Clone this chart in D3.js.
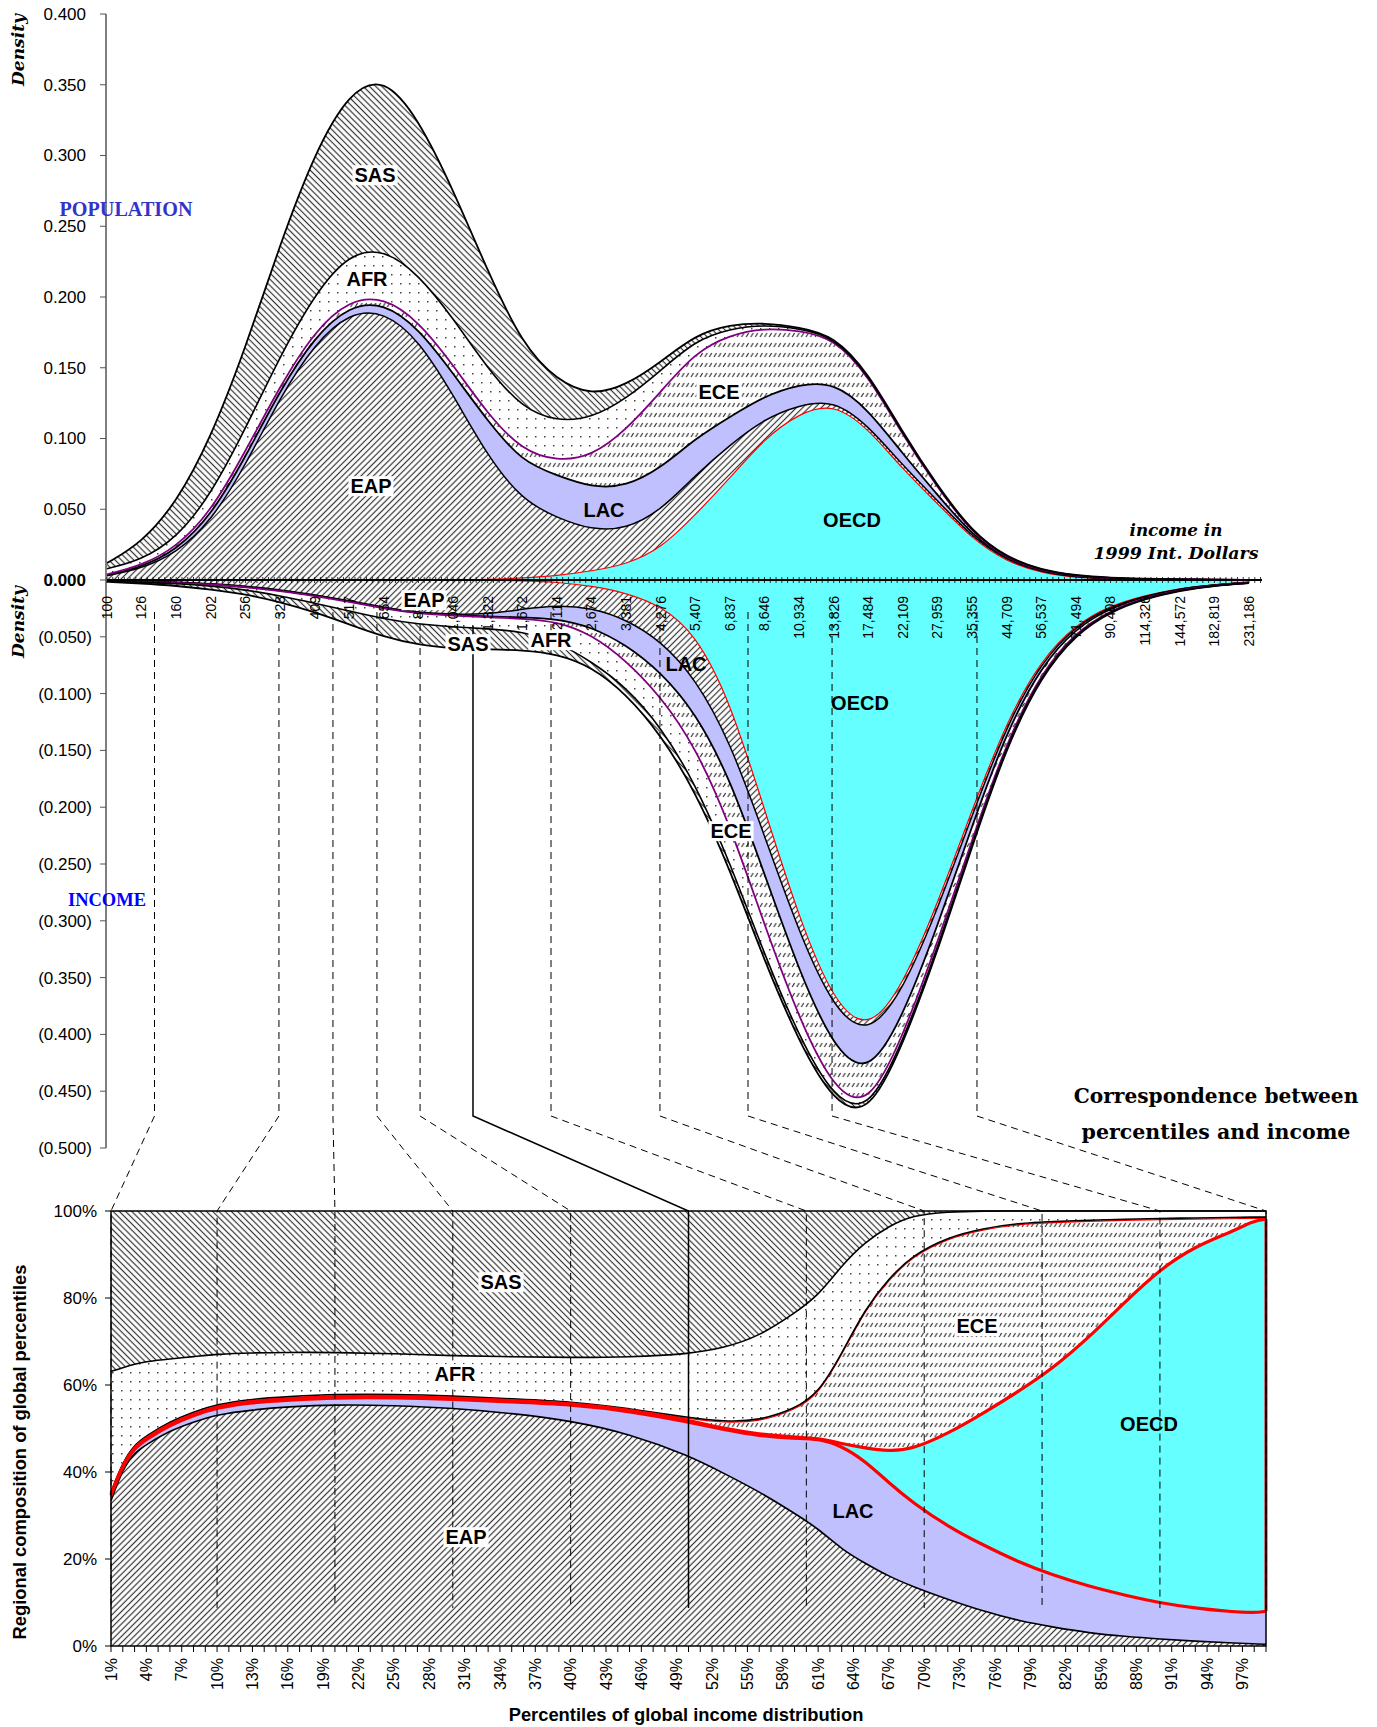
<!DOCTYPE html>
<html><head><meta charset="utf-8">
<script src="https://cdn.jsdelivr.net/npm/d3@7"></script>
<style>body{margin:0;background:#fff}</style>
</head><body><svg id="c" width="1377" height="1727"></svg>
<script>
// ================= DATA =================
const regions = ["OECD","EAP","LAC","ECE","AFR","SAS"];
const pctRegions = ["EAP","LAC","OECD","ECE","AFR","SAS"];
const incomeTicks = [100,126,160,202,256,323,409,517,654,827,1046,1322,1672,2114,2674,3381,4276,5407,6837,8646,10934,13826,17484,22109,27959,35355,44709,56537,71494,90408,114326,144572,182819,231186];
const incomeTickLabels = ["100","126","160","202","256","323","409","517","654","827","1,046","1,322","1,672","2,114","2,674","3,381","4,276","5,407","6,837","8,646","10,934","13,826","17,484","22,109","27,959","35,355","44,709","56,537","71,494","90,408","114,326","144,572","182,819","231,186"];

// Population density by region (top panel), at each income tick
const popOECD = [0,0,0,0,0,0,0,0,0,0,0,.0003,.0014,.003,.0063,.011,.022,.046,.072,.100,.118,.125,.107,.078,.054,.029,.0127,.005,.0017,.0007,.0003,.0002,.0001,.0001];
const popEAP  = [.003,.008,.019,.041,.081,.129,.167,.189,.190,.170,.131,.087,.055,.041,.029,.025,.027,.028,.0235,.014,.0057,.0023,.0023,.0027,.0022,.0012,.001,.0006,.0003,.0002,.0001,.0001,.0001,0];
const popLAC  = [.0005,.001,.002,.004,.006,.005,.005,.005,.006,.008,.015,.025,.027,.030,.030,.030,.030,.026,.0198,.016,.0146,.0126,.0113,.0082,.004,.0014,.0006,.0005,.0002,.0002,.0001,.0001,0,0];
const popECE  = [.0005,.001,.002,.003,.004,.003,.004,.004,.004,.005,.006,.005,.008,.010,.022,.040,.054,.061,.058,.048,.038,.031,.024,.013,.005,.0014,.0006,.0005,.0005,.0002,.0001,0,0,0];
const popAFR  = [.004,.004,.0064,.012,.016,.021,.026,.033,.034,.033,.033,.032,.030,.028,.027,.022,.015,.0083,.0043,.0024,.0014,.001,.001,.001,.0006,.0005,.0005,.0003,.0003,.0002,.0001,0,0,0];
const popSAS  = [.004,.012,.025,.040,.057,.079,.100,.114,.122,.110,.091,.069,.045,.029,.016,.0096,.006,.004,.0029,.0014,.001,.001,.001,.001,.0006,.0005,.0005,.0002,.0002,.0001,.0001,0,0,0];

// Income density by region (middle panel, drawn downwards)
const incOECD = [0,0,0,0,0,0,0,0,0,0,0,.0002,.0007,.0018,.0052,.0113,.0225,.047,.106,.202,.298,.372,.398,.357,.285,.202,.124,.070,.039,.0224,.0135,.0072,.004,.002];
const incEAP  = [.0005,.001,.002,.0032,.0054,.0086,.013,.018,.0243,.0286,.0303,.0298,.025,.0202,.0194,.0233,.031,.0394,.0357,.0231,.0127,.0061,.004,.0047,.005,.005,.0034,.0022,.0011,.001,.0005,.0003,.0002,.0001];
const incLAC  = [.0002,.0002,.0002,.0002,.0005,.0005,.0005,.0005,.0005,.0005,.0005,.0021,.0072,.0122,.0166,.0224,.0275,.030,.0328,.0338,.0338,.0345,.035,.0228,.0148,.0091,.0056,.0034,.0021,.0011,.0005,.0004,.0002,.0001];
const incECE  = [.0003,.0003,.0003,.0003,.0005,.0005,.0005,.0005,.0005,.0005,.0005,.0007,.001,.0022,.0066,.0138,.0215,.0302,.0406,.045,.0419,.0365,.028,.0173,.0143,.0124,.0088,.0055,.0033,.0021,.001,.0008,.0003,.0003];
const incAFR  = [.0002,.0005,.0006,.0015,.0022,.0043,.0064,.0082,.009,.0093,.010,.010,.0115,.018,.024,.0235,.0265,.0324,.0333,.0261,.0158,.0075,.0043,.0047,.005,.0034,.0022,.002,.0011,.0006,.0005,.0003,.0002,.0002];
const incSAS  = [.0003,.001,.002,.003,.004,.0053,.0078,.0119,.0158,.0183,.019,.0183,.0163,.0106,.0044,.0059,.007,.007,.0064,.0054,.005,.0037,.003,.003,.003,.0022,.002,.0012,.0011,.0006,.0005,.0002,.0001,.0001];

// Regional composition of global percentiles (bottom panel)
const pctPoints = [1,2,3,4,6,8,10,13,16,20,25,30,35,40,45,50,53,56,59,61,63,65,67,69,72,75,78,81,84,87,90,93,96,98,99];
const pctEAP  = [.334,.407,.445,.463,.495,.515,.532,.543,.55,.555,.553,.547,.535,.518,.488,.438,.397,.355,.305,.27,.222,.19,.16,.137,.107,.08,.058,.043,.03,.022,.016,.011,.007,.005,.004];
const pctLAC  = [.012,.008,.010,.012,.013,.015,.016,.017,.015,.016,.018,.020,.026,.037,.052,.077,.10,.128,.172,.207,.238,.235,.215,.193,.168,.152,.135,.119,.107,.095,.083,.076,.072,.071,.076];
const pctOECD = [.003,.003,.003,.003,.003,.003,.003,.003,.003,.003,.003,.003,.003,.003,.003,.004,.003,.004,.003,.001,.005,.03,.073,.122,.213,.303,.392,.478,.573,.673,.767,.832,.872,.902,.901];
const pctECE  = [.005,.005,.005,.005,.005,.005,.005,.005,.005,.005,.005,.005,.004,.004,.003,.006,.016,.031,.065,.102,.207,.321,.397,.446,.452,.425,.387,.336,.269,.191,.117,.065,.034,.008,.005];
const pctAFR  = [.277,.217,.185,.171,.144,.127,.115,.106,.102,.096,.093,.092,.097,.101,.118,.146,.169,.194,.22,.225,.203,.153,.12,.092,.058,.04,.028,.024,.021,.019,.017,.016,.015,.014,.014];
const pctSAS  = [.369,.36,.352,.346,.34,.335,.329,.326,.325,.325,.328,.333,.335,.337,.336,.329,.315,.288,.235,.195,.125,.071,.035,.01,.002,0,0,0,0,0,0,0,0,0,0];

// Correspondence between percentiles and income
const markPct = [1,10,20,30,40,50,60,70,80,90,99];
const markIncome = [138,321,463,624,836,1197,2032,4254,7730,13670,36530];

const popTickValues = [0,0.05,0.1,0.15,0.2,0.25,0.3,0.35,0.4];
const incTickValues = [0.05,0.1,0.15,0.2,0.25,0.3,0.35,0.4,0.45,0.5];
const pctTickValues = [0,0.2,0.4,0.6,0.8,1];
const pctLabelTicks = [1,4,7,10,13,16,19,22,25,28,31,34,37,40,43,46,49,52,55,58,61,64,67,70,73,76,79,82,85,88,91,94,97];

// ================= DRAW =================
const svg = d3.select("#c");
const SANS = "'Liberation Sans', Arial, sans-serif";
const SERIF = "'DejaVu Serif', serif";
const TIMES = "'Liberation Serif', 'Times New Roman', serif";
const defs = svg.append("defs");

function hatch(id, angle, sp, w) {
  const p = defs.append("pattern").attr("id", id).attr("patternUnits","userSpaceOnUse")
    .attr("width", sp).attr("height", sp).attr("patternTransform", `rotate(${angle})`);
  p.append("rect").attr("width", sp).attr("height", sp).attr("fill", "#fff");
  p.append("line").attr("x1", sp/2).attr("x2", sp/2).attr("y1", -1).attr("y2", sp+1)
    .attr("stroke", "#333").attr("stroke-width", w);
}
hatch("hSAS", -45, 4.4, 1.2);
hatch("hEAP", 45, 4.4, 1.2);
{ // dots for AFR
  const p = defs.append("pattern").attr("id","dots").attr("patternUnits","userSpaceOnUse").attr("width",9).attr("height",9);
  p.append("rect").attr("width",9).attr("height",9).attr("fill","#fff");
  p.append("rect").attr("x",4).attr("y",4).attr("width",1.5).attr("height",1.5).attr("fill","#444");
}
{ // short slanted dashes in rows for ECE
  const p = defs.append("pattern").attr("id","dash").attr("patternUnits","userSpaceOnUse").attr("width",4.6).attr("height",10);
  p.append("rect").attr("width",4.6).attr("height",10).attr("fill","#fff");
  p.append("line").attr("x1",1).attr("y1",7).attr("x2",3.4).attr("y2",3).attr("stroke","#333").attr("stroke-width",1.2);
}
const fills = {OECD:"#66FFFF", EAP:"url(#hEAP)", LAC:"#C0C0FF", ECE:"url(#dash)", AFR:"url(#dots)", SAS:"url(#hSAS)"};

const xInc = d3.scaleLog().domain([100,231186]).range([107,1249]);
const yPop = d3.scaleLinear().domain([0,0.4]).range([580,14]);
const yInc = d3.scaleLinear().domain([0,0.5]).range([580,1148]);
const xPct = d3.scaleLinear().domain([1,99]).range([111,1266]);
const yPct = d3.scaleLinear().domain([0,1]).range([1646,1211]);

const curve = d3.curveBasis;

function rows(xs, keys, series) {
  return xs.map((x,i) => { const r = {x}; keys.forEach((k,j) => r[k] = series[j][i]); return r; });
}

function drawStack(g, data, keys, x, y, lineStyles) {
  const st = d3.stack().keys(keys)(data);
  g.selectAll("path.a").data(st).join("path").attr("class","a")
    .attr("d", d3.area().curve(curve).x(d => x(d.data.x)).y0(d => y(d[0])).y1(d => y(d[1])))
    .attr("fill", s => fills[s.key]);
  g.append("g").attr("class","lines");
  lineStyles.forEach(ls => {
    const s = st.find(q => q.key === ls.key);
    g.select("g.lines").append("path").attr("fill","none").attr("stroke", ls.c).attr("stroke-width", ls.w)
      .attr("stroke-linejoin","round")
      .attr("transform", ls.dy ? `translate(0,${ls.dy})` : null)
      .attr("d", d3.line().curve(curve).x(d => x(d.data.x)).y(d => y(ls.base ? d[0] : d[1]))(s));
  });
  return st;
}

const lineSet = [
  {key:"OECD", c:"#FF0000", w:1.2},
  {key:"EAP", c:"#000", w:1.5},
  {key:"LAC", c:"#000", w:1.8},
  {key:"ECE", c:"#800080", w:1.8},
  {key:"AFR", c:"#000", w:1.6},
  {key:"SAS", c:"#000", w:1.8}
];
const gTop = svg.append("g");
drawStack(gTop, rows(incomeTicks, regions, [popOECD,popEAP,popLAC,popECE,popAFR,popSAS]), regions, xInc, yPop, lineSet);
const gMid = svg.append("g");
drawStack(gMid, rows(incomeTicks, regions, [incOECD,incEAP,incLAC,incECE,incAFR,incSAS]), regions, xInc, yInc, lineSet);

const gBot = svg.append("g");
const stP = drawStack(gBot, rows(pctPoints, pctRegions, [pctEAP,pctLAC,pctOECD,pctECE,pctAFR,pctSAS]), pctRegions, xPct, yPct, [
  {key:"EAP", c:"#000", w:1.6},
  {key:"ECE", c:"#FF0000", w:1.2, dy:1.2},
  {key:"ECE", c:"#000", w:1.6},
  {key:"AFR", c:"#000", w:1.6},
  {key:"OECD", c:"#FF0000", w:3.2, base:true},
  {key:"OECD", c:"#FF0000", w:3.2}
]);
{
  const s = stP.find(q => q.key === "OECD"); const last = s[s.length-1];
  gBot.append("line").attr("x1", xPct(last.data.x)).attr("x2", xPct(last.data.x))
    .attr("y1", yPct(last[0])).attr("y2", yPct(last[1])).attr("stroke","#FF0000").attr("stroke-width",3);
}

// ---------- correspondence dashed lines ----------
const gLinks = svg.append("g");
markPct.forEach((p,i) => {
  const xt = xInc(markIncome[i]), xb = xPct(p);
  const solid = p === 50;
  gLinks.append("path")
    .attr("d", `M${xt},${solid ? 626 : 612} V1116 L${xb},1211 V1608`)
    .attr("fill","none").attr("stroke","#000").attr("stroke-width", solid ? 1.5 : 1)
    .attr("stroke-dasharray", solid ? null : "7,5");
});

// ---------- axes ----------
const gAx = svg.append("g").attr("font-family", SANS);
gAx.append("line").attr("x1",106).attr("x2",106).attr("y1",14).attr("y2",1148).attr("stroke","#555").attr("stroke-width",1.5);
popTickValues.forEach(v => {
  const y = yPop(v);
  gAx.append("line").attr("x1",100).attr("x2",106).attr("y1",y).attr("y2",y).attr("stroke","#555");
  gAx.append("text").attr("x",86).attr("y",y).attr("dy","0.35em").attr("text-anchor","end")
    .attr("font-size",17).attr("font-weight", v === 0 ? "bold" : null).text(d3.format(".3f")(v));
});
incTickValues.forEach(v => {
  const y = yInc(v);
  gAx.append("line").attr("x1",100).attr("x2",106).attr("y1",y).attr("y2",y).attr("stroke","#555");
  gAx.append("text").attr("x",92).attr("y",y).attr("dy","0.35em").attr("text-anchor","end")
    .attr("font-size",17).text("(" + d3.format(".3f")(v) + ")");
});
gAx.append("line").attr("x1",107).attr("x2",1262).attr("y1",580).attr("y2",580).attr("stroke","#000").attr("stroke-width",2);
{
  const minor = d3.range(0, 33*6 + 3).map(k => 100 * Math.pow(231186/100, k/198));
  minor.forEach(v => {
    const x = xInc(v);
    if (x > 1262) return;
    gAx.append("line").attr("x1",x).attr("x2",x).attr("y1",577).attr("y2",583).attr("stroke","#000").attr("stroke-width",0.8);
  });
}
incomeTicks.forEach((v,i) => {
  gAx.append("text").attr("transform",`translate(${xInc(v)},596) rotate(-90)`).attr("dy","0.35em")
    .attr("text-anchor","end").attr("font-size",14).text(incomeTickLabels[i]);
});

gAx.append("rect").attr("x",111).attr("y",1211).attr("width",1266-111).attr("height",1646-1211)
  .attr("fill","none").attr("stroke","#000").attr("stroke-width",1.5);
pctTickValues.forEach(v => {
  const y = yPct(v);
  gAx.append("line").attr("x1",105).attr("x2",111).attr("y1",y).attr("y2",y).attr("stroke","#000");
  gAx.append("text").attr("x",97).attr("y",y).attr("dy","0.35em").attr("text-anchor","end")
    .attr("font-size",17).text(d3.format(".0%")(v));
});
d3.range(1,100).forEach(p => {
  gAx.append("line").attr("x1",xPct(p)).attr("x2",xPct(p)).attr("y1",1646).attr("y2",1652).attr("stroke","#000");
});
pctLabelTicks.forEach(p => {
  gAx.append("text").attr("transform",`translate(${xPct(p)},1658) rotate(-90)`).attr("dy","0.35em")
    .attr("text-anchor","end").attr("font-size",16).text(p + "%");
});

// ---------- region labels ----------
const gLab = svg.append("g").attr("font-family", SANS).attr("font-weight","bold").attr("font-size",20);
function label(x, y, t, box) {
  const g = gLab.append("g");
  const tx = g.append("text").attr("x",x).attr("y",y).attr("dy","0.36em").attr("text-anchor","middle").text(t);
  if (box) {
    const b = tx.node().getBBox();
    g.insert("rect","text").attr("x",b.x-2).attr("y",b.y+1).attr("width",b.width+4).attr("height",b.height-2).attr("fill","#fff");
  }
}
label(375,175,"SAS",true); label(367,279,"AFR",true); label(371,486,"EAP",true);
label(604,510,"LAC",false); label(719,392,"ECE",true); label(852,520,"OECD",false);
label(424,600,"EAP",true); label(468,644,"SAS",true); label(551,640,"AFR",true);
label(686,664,"LAC",false); label(860,703,"OECD",false); label(731,831,"ECE",true);
label(501,1282,"SAS",true); label(455,1374,"AFR",true); label(466,1537,"EAP",true);
label(853,1511,"LAC",false); label(977,1326,"ECE",true); label(1149,1424,"OECD",false);

// ---------- texts ----------
function fit(sel, target) {
  const w = sel.node().getComputedTextLength();
  sel.attr("font-size", parseFloat(sel.attr("font-size")) * target / w);
  return sel;
}
const gT = svg.append("g");
fit(gT.append("text").attr("transform","translate(18,50) rotate(-90)").attr("dy","0.35em").attr("text-anchor","middle")
  .attr("font-family",SERIF).attr("font-weight","bold").attr("font-style","italic").attr("font-size",16).text("Density"), 72);
fit(gT.append("text").attr("transform","translate(18,622) rotate(-90)").attr("dy","0.35em").attr("text-anchor","middle")
  .attr("font-family",SERIF).attr("font-weight","bold").attr("font-style","italic").attr("font-size",16).text("Density"), 72);
fit(gT.append("text").attr("x",126).attr("y",209).attr("dy","0.35em").attr("text-anchor","middle")
  .attr("font-family",TIMES).attr("font-weight","bold").attr("font-size",20).attr("fill","#3333CC").text("POPULATION"), 133);
fit(gT.append("text").attr("x",107).attr("y",900).attr("dy","0.35em").attr("text-anchor","middle")
  .attr("font-family",TIMES).attr("font-weight","bold").attr("font-size",19).attr("fill","#0000FF").text("INCOME"), 78);
fit(gT.append("text").attr("x",1176).attr("y",530).attr("dy","0.35em").attr("text-anchor","middle")
  .attr("font-family",SERIF).attr("font-weight","bold").attr("font-style","italic").attr("font-size",15).text("income in"), 93);
fit(gT.append("text").attr("x",1176).attr("y",553).attr("dy","0.35em").attr("text-anchor","middle")
  .attr("font-family",SERIF).attr("font-weight","bold").attr("font-style","italic").attr("font-size",15).text("1999 Int. Dollars"), 165);
fit(gT.append("text").attr("x",1216).attr("y",1096).attr("dy","0.35em").attr("text-anchor","middle")
  .attr("font-family",SERIF).attr("font-weight","bold").attr("font-size",19).text("Correspondence between"), 285);
fit(gT.append("text").attr("x",1216).attr("y",1132).attr("dy","0.35em").attr("text-anchor","middle")
  .attr("font-family",SERIF).attr("font-weight","bold").attr("font-size",19).text("percentiles and income"), 269);
fit(gT.append("text").attr("transform","translate(20,1452) rotate(-90)").attr("dy","0.35em").attr("text-anchor","middle")
  .attr("font-family",SANS).attr("font-weight","bold").attr("font-size",16).text("Regional composition of global percentiles"), 375);
fit(gT.append("text").attr("x",686).attr("y",1715).attr("dy","0.35em").attr("text-anchor","middle")
  .attr("font-family",SANS).attr("font-weight","bold").attr("font-size",16).text("Percentiles of global income distribution"), 355);
</script>
</body></html>
